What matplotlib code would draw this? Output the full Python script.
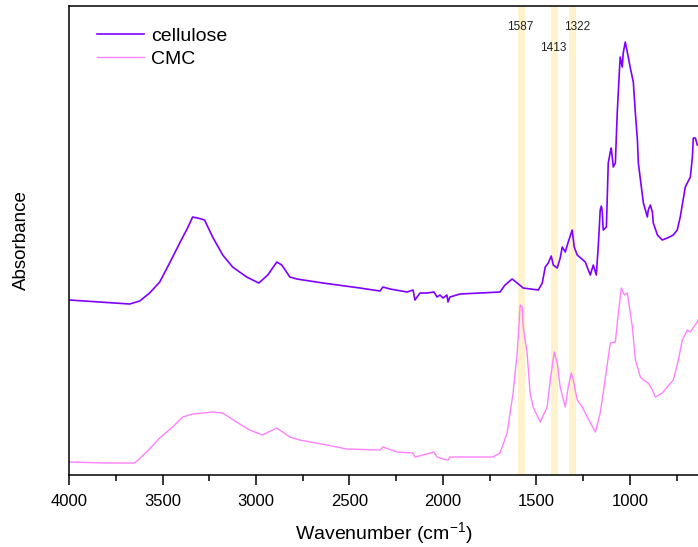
import numpy as np
import matplotlib
matplotlib.use("Agg")
import matplotlib.pyplot as plt
from matplotlib.ticker import MultipleLocator

plt.rcParams['font.family'] = ['Liberation Sans', 'DejaVu Sans']
plt.rcParams['mathtext.default'] = 'regular'

# spectra (wavenumber in cm-1, absorbance in a.u.)
cellulose_wn = [3997, 3837, 3676, 3622, 3569, 3515, 3462, 3408, 3366, 3339, 3312, 3275,
                3232, 3178, 3125, 3050, 2985, 2937, 2889, 2862, 2819, 2781, 2642, 2444,
                2337, 2321, 2283, 2192, 2160, 2150, 2123, 2086, 2048, 2032, 2016, 2000,
                1979, 1973, 1963, 1909, 1802, 1695, 1668, 1630, 1603, 1571, 1490, 1469,
                1453, 1437, 1421, 1410, 1389, 1373, 1362, 1346, 1330, 1309, 1298, 1282,
                1239, 1212, 1196, 1180, 1169, 1159, 1153, 1148, 1143, 1126, 1116, 1105,
                1100, 1089, 1078, 1068, 1057, 1052, 1041, 1036, 1025, 1009, 998, 982,
                971, 960, 955, 939, 928, 907, 902, 891, 880, 875, 853, 827, 800, 768,
                747, 731, 704, 677, 666, 661, 650, 640, 636]
cellulose_abs = [1.75, 1.73, 1.71, 1.74, 1.82, 1.93, 2.12, 2.32, 2.47, 2.58, 2.57, 2.55,
                 2.38, 2.20, 2.08, 1.98, 1.92, 2.00, 2.13, 2.10, 1.98, 1.96, 1.92, 1.87,
                 1.84, 1.88, 1.86, 1.83, 1.85, 1.75, 1.82, 1.82, 1.83, 1.78, 1.80, 1.77,
                 1.80, 1.73, 1.78, 1.81, 1.82, 1.83, 1.90, 1.96, 1.92, 1.87, 1.85, 1.92,
                 2.08, 2.12, 2.19, 2.10, 2.07, 2.17, 2.28, 2.23, 2.33, 2.45, 2.28, 2.20,
                 2.13, 2.00, 2.10, 2.00, 2.30, 2.65, 2.69, 2.63, 2.45, 2.48, 3.12, 3.23,
                 3.27, 3.08, 3.12, 3.62, 4.02, 4.18, 4.08, 4.22, 4.33, 4.18, 4.07, 3.93,
                 3.62, 3.35, 3.12, 2.88, 2.72, 2.58, 2.65, 2.70, 2.63, 2.52, 2.40, 2.35,
                 2.37, 2.40, 2.45, 2.58, 2.88, 2.98, 3.18, 3.37, 3.37, 3.30, 3.30]

cmc_wn = [3997, 3800, 3676, 3649, 3585, 3515, 3446, 3392, 3339, 3232, 3178, 3104, 3034,
          2965, 2889, 2819, 2766, 2621, 2514, 2337, 2321, 2246, 2160, 2150, 2107, 2048,
          2032, 2000, 1973, 1963, 1909, 1802, 1733, 1695, 1657, 1641, 1625, 1603, 1587,
          1576, 1571, 1550, 1534, 1518, 1480, 1443, 1426, 1405, 1389, 1373, 1346, 1330,
          1314, 1303, 1282, 1255, 1228, 1185, 1159, 1143, 1105, 1078, 1062, 1046, 1030,
          1014, 987, 971, 944, 928, 902, 880, 864, 827, 768, 741, 720, 693, 677, 640, 636]
cmc_abs = [0.13, 0.12, 0.12, 0.12, 0.23, 0.37, 0.48, 0.58, 0.61, 0.63, 0.62, 0.53, 0.45,
           0.40, 0.47, 0.38, 0.35, 0.30, 0.26, 0.25, 0.28, 0.23, 0.22, 0.18, 0.20, 0.23,
           0.18, 0.16, 0.15, 0.18, 0.18, 0.18, 0.18, 0.22, 0.42, 0.62, 0.82, 1.22, 1.70,
           1.68, 1.48, 1.22, 0.82, 0.68, 0.53, 0.68, 0.95, 1.23, 1.12, 0.88, 0.68, 0.88,
           1.02, 0.95, 0.75, 0.68, 0.58, 0.43, 0.62, 0.82, 1.32, 1.33, 1.62, 1.87, 1.80,
           1.82, 1.48, 1.15, 0.98, 0.95, 0.92, 0.85, 0.78, 0.82, 0.95, 1.15, 1.35, 1.45,
           1.43, 1.53, 1.55]

# highlighted bands
band_labels = ['1587', '1413', '1322']
band_centers = [1582, 1402, 1308]
band_width = 38


def main():
    fig = plt.figure(figsize=(6.98, 5.47), dpi=100)
    ax = fig.add_axes([0.0989, 0.1316, 0.9011, 0.8574])

    for c in band_centers:
        ax.axvspan(c - band_width / 2, c + band_width / 2, color='#fff2cc', lw=0, zorder=0)

    ax.plot(cellulose_wn, cellulose_abs, color='#8000ff', lw=1.2, label='cellulose')
    ax.plot(cmc_wn, cmc_abs, color='#ff80ff', lw=1.0, label='CMC')

    # band labels
    label_x = [1587, 1410, 1280]
    label_y = [0.955, 0.910, 0.955]
    for txt, x, y in zip(band_labels, label_x, label_y):
        ax.text(x, y, txt, transform=ax.get_xaxis_transform(), ha='center', va='center',
                fontsize=8.5, color='#222222')

    ax.set_xlim(4000, 636)
    ax.set_ylim(0, 4.69)
    ax.xaxis.set_major_locator(MultipleLocator(500))
    ax.xaxis.set_minor_locator(MultipleLocator(250))
    ax.tick_params(axis='x', which='major', direction='out', length=7, width=1.1,
                   labelsize=12, pad=7)
    ax.tick_params(axis='x', which='minor', direction='out', length=4, width=1.1)
    ax.set_yticks([])
    ax.spines['right'].set_visible(False)
    for s in ['left', 'top', 'bottom']:
        ax.spines[s].set_linewidth(1.1)

    ax.set_xlabel('Wavenumber (cm$^{-1}$)', fontsize=14, labelpad=8)
    ax.set_ylabel('Absorbance', fontsize=13.5, labelpad=28)

    ax.legend(loc='upper left', bbox_to_anchor=(0.045, 0.955), frameon=False,
              fontsize=14, handlelength=2.4, handletextpad=0.35, labelspacing=0.3,
              borderaxespad=0, borderpad=0)

    fig.savefig('out.png', dpi=100)


if __name__ == "__main__":
    main()
